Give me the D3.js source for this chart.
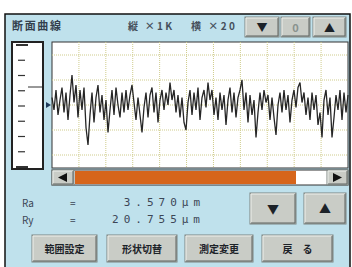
<!DOCTYPE html>
<html>
<head>
<meta charset="utf-8">
<script src="https://cdn.jsdelivr.net/npm/d3@7"></script>
<style>
  html, body { margin: 0; padding: 0; background: #fff; }
  svg { display: block; font-family: "Noto Sans CJK JP", "DejaVu Sans", sans-serif; }
</style>
</head>
<body>
<div id="chart"></div>
<script>
// profile (µm), one sample every 2 px of the screen
const profile = [
  3, -2, 6, -4, 2, 7, -3, 5, -6, 4, 12, 1, 8, -5, 6, -2, 7, -9, -16, -4,
  5, -7, 3, 8, -3, 4, -6, 2, -11, -2, 6, -4, 7, 0, -5, 5, -3, 6, -2, 4,
  8, 1, -6, 3, -4, -11, -1, 5, -5, 4, 7, -3, 5, -7, 2, 6, -2, 5, 0, 9,
  2, 6, -3, 4, -5, 3, -7, -10, 1, 6, -4, 5, -2, 7, -6, 3, 6, -1, 9, 2,
  6, -4, 3, -6, 5, -2, 4, -8, 2, 7, -3, 5, -5, 3, 6, 10, -2, 5, -7, 4,
  -4, 2, -13, -3, 5, -2, 6, 1, 4, -6, 3, -5, -12, 0, 5, -3, 6, -2, 4, -7,
  2, 6, -1, 7, 9, 1, 5, -4, 3, -6, 5, -2, 4, -8, -3, -13, 2, 6, -4, 3,
  -13, -5, 4, -2, 6, -6, 5, -3, 4
];
const yDomain = [-25.2, 25.2];
const gridY = [-20, -10, 0, 10, 20];
const gridXDivisions = 11;
const scaleTicks = [0, 1, 2, 3, 4, 5, 6, 7, 8];
const results = [
  { label: 'Ra', value: '3.570\u03bcm' },
  { label: 'Ry', value: '20.755\u03bcm' }
];
const topButtons = ['\u25bc', '0', '\u25b2'];
const bottomButtons = ['範囲設定', '形状切替', '測定変更', '戻　る'];

const width = 352, height = 267;
const svg = d3.select('#chart').append('svg')
  .attr('width', width).attr('height', height);

// panel background and frame
svg.append('rect').attr('x', 5).attr('y', 14).attr('width', 345).attr('height', 260)
  .attr('fill', '#bfe1ec').attr('stroke', '#111').attr('stroke-width', 1.5);

// simple 3D button helper
function button(x, y, w, h, label, size, color) {
  const g = svg.append('g');
  g.append('rect').attr('x', x).attr('y', y).attr('width', w).attr('height', h)
    .attr('fill', '#c9ccc6').attr('stroke', '#7d8480');
  g.append('path').attr('d', `M${x + 1},${y + h - 1}V${y + 1}H${x + w - 1}`)
    .attr('fill', 'none').attr('stroke', '#eef0ec');
  g.append('path').attr('d', `M${x + 1},${y + h - 1}H${x + w - 1}V${y + 1}`)
    .attr('fill', 'none').attr('stroke', '#5d6360');
  g.append('text').attr('x', x + w / 2).attr('y', y + h / 2)
    .attr('text-anchor', 'middle').attr('dominant-baseline', 'central')
    .attr('font-size', size).attr('fill', color || '#1c2228').attr('font-weight', 'bold')
    .text(label);
}

// header
svg.append('text').attr('x', 12).attr('y', 25).attr('dominant-baseline', 'central')
  .attr('font-size', 11).attr('font-weight', 'bold').attr('fill', '#33404e')
  .attr('textLength', 49).text('断面曲線');
svg.append('text').attr('x', 128).attr('y', 25).attr('dominant-baseline', 'central')
  .attr('font-size', 10).attr('font-weight', 'bold').attr('fill', '#46505c')
  .attr('textLength', 44).text('縦 ×1K');
svg.append('text').attr('x', 191).attr('y', 25).attr('dominant-baseline', 'central')
  .attr('font-size', 10).attr('font-weight', 'bold').attr('fill', '#46505c')
  .attr('textLength', 44).text('横 ×20');
const topX = [245, 281, 313], topW = [34, 29, 33];
topButtons.forEach((b, i) => button(topX[i], 17, topW[i], 20, b, 11, i === 1 ? '#8a928e' : null));

// plot area
const plot = { left: 52, right: 348, top: 42, bottom: 168 };
const x = d3.scaleLinear().domain([0, profile.length - 1]).range([plot.left, plot.right]);
const y = d3.scaleLinear().domain(yDomain).range([plot.bottom, plot.top]);
const gx = d3.scaleLinear().domain([0, gridXDivisions]).range([plot.left, plot.right]);

svg.append('rect').attr('x', plot.left).attr('y', plot.top)
  .attr('width', plot.right - plot.left).attr('height', plot.bottom - plot.top)
  .attr('fill', '#fff').attr('stroke', '#333');

svg.append('g').selectAll('line').data(d3.range(1, gridXDivisions)).enter().append('line')
  .attr('x1', d => gx(d)).attr('x2', d => gx(d))
  .attr('y1', plot.top).attr('y2', plot.bottom)
  .attr('stroke', '#cfcc8c').attr('stroke-dasharray', '1,1');
svg.append('g').selectAll('line').data(gridY).enter().append('line')
  .attr('x1', plot.left).attr('x2', plot.right)
  .attr('y1', d => y(d)).attr('y2', d => y(d))
  .attr('stroke', '#cfcc8c').attr('stroke-dasharray', '1,1');

svg.append('path').datum(profile)
  .attr('d', d3.line().x((d, i) => x(i)).y(d => y(d)))
  .attr('fill', 'none').attr('stroke', '#262626').attr('stroke-width', 1.3);

// mean marker
svg.append('path').attr('d', `M46,${y(0) - 3}L51,${y(0)}L46,${y(0) + 3}Z`).attr('fill', '#1e3a5a');

// left scale panel
const sy = d3.scaleLinear().domain([0, 8]).range([45, 167]);
svg.append('rect').attr('x', 12).attr('y', 42).attr('width', 31).attr('height', 127)
  .attr('fill', '#fff').attr('stroke', '#222').attr('stroke-width', 2);
svg.append('g').selectAll('line').data(scaleTicks).enter().append('line')
  .attr('x1', d => (d === 0 || d === 8) ? 16 : 18)
  .attr('x2', d => (d === 0 || d === 8) ? 28 : 25)
  .attr('y1', d => sy(d)).attr('y2', d => sy(d))
  .attr('stroke', '#333').attr('stroke-width', d => (d === 0 || d === 8) ? 2 : 1.2);
svg.append('line').attr('x1', 28).attr('x2', 42).attr('y1', 87).attr('y2', 87)
  .attr('stroke', '#333').attr('stroke-width', 1);

// scrollbar
svg.append('rect').attr('x', plot.left).attr('y', 170).attr('width', plot.right - plot.left).attr('height', 15)
  .attr('fill', '#fff').attr('stroke', '#333');
svg.append('rect').attr('x', 75).attr('y', 171).attr('width', 221).attr('height', 13).attr('fill', '#d6651b');
button(plot.left, 170, 22, 15, '', 9);
button(327, 170, 21, 15, '', 9);
svg.append('path').attr('d', 'M58,177.5L67,173L67,182Z').attr('fill', '#111');
svg.append('path').attr('d', 'M342,177.5L333,173L333,182Z').attr('fill', '#111');

// results
results.forEach((r, i) => {
  const ty = 202 + i * 17;
  svg.append('text').attr('x', 22).attr('y', ty).attr('dominant-baseline', 'central')
    .attr('font-size', 10).attr('fill', '#3c4656').text(r.label);
  svg.append('text').attr('x', 70).attr('y', ty).attr('dominant-baseline', 'central')
    .attr('font-size', 10).attr('fill', '#3c4656').text('=');
  svg.append('text').attr('x', 205).attr('y', ty).attr('dominant-baseline', 'central')
    .attr('text-anchor', 'end').attr('font-size', 11).attr('letter-spacing', 5)
    .attr('font-family', 'DejaVu Sans Mono').attr('fill', '#3c4656').text(r.value);
});
button(250, 193, 46, 31, '\u25bc', 12);
button(304, 193, 42, 31, '\u25b2', 12);

// bottom buttons
const bx = [32, 107, 185, 262], bw = [65, 70, 68, 71];
bottomButtons.forEach((b, i) => button(bx[i], 235, bw[i], 27, b, 10));
</script>
</body>
</html>
